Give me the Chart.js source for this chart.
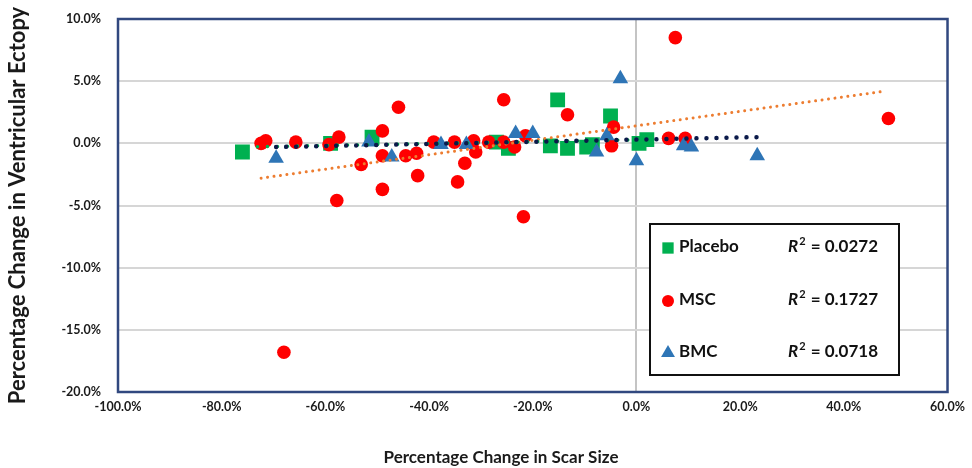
<!DOCTYPE html>
<html>
<head>
<meta charset="utf-8">
<script src="https://cdn.jsdelivr.net/npm/chart.js@4.4.1/dist/chart.umd.min.js"></script>
<style>
  html, body { margin: 0; padding: 0; background: #fff; }
  #wrap { width: 972px; height: 468px; }
</style>
</head>
<body>
<div id="wrap"><canvas id="chart" width="972" height="468"></canvas></div>
<script>
// change in scar size (%) vs change in ventricular ectopy (%)
const placeboX = [-76.0, -59.0, -51.0, -27.0, -24.7, -16.6, -15.2, -13.3, -9.6, -8.5, -5.0, 0.5, 2.0];
const placeboY = [-0.7, 0.0, 0.5, 0.1, -0.4, -0.2, 3.5, -0.4, -0.3, -0.1, 2.2, 0.0, 0.3];

const mscX = [-72.4, -71.5, -68.0, -65.7, -59.3, -57.8, -57.4, -53.1, -49.0, -49.0, -49.0, -45.9,
              -44.5, -42.4, -42.2, -39.1, -35.1, -34.5, -33.1, -31.4, -31.0, -28.5, -25.6, -25.6,
              -23.5, -21.8, -21.4, -13.3, -4.8, -4.4, 6.2, 7.5, 9.4, 48.6];
const mscY = [0.0, 0.2, -16.8, 0.1, -0.1, -4.6, 0.5, -1.7, 1.0, -1.0, -3.7, 2.9,
              -1.0, -0.8, -2.6, 0.1, 0.1, -3.1, -1.6, 0.2, -0.7, 0.1, 3.5, 0.1,
              -0.3, -5.9, 0.6, 2.3, -0.2, 1.3, 0.4, 8.5, 0.4, 2.0];

const bmcX = [-69.5, -51.6, -47.2, -37.7, -32.8, -23.3, -20.0, -7.7, -5.7, -3.1, 0.0, 9.1, 10.6, 23.3];
const bmcY = [-1.2, 0.1, -1.1, -0.1, -0.1, 0.8, 0.8, -0.7, 0.6, 5.2, -1.4, -0.2, -0.3, -1.0];

// linear trend lines (start and end points)
const placeboTrendX = [-76.0, 2.0];
const placeboTrendY = [-0.3, 0.3];
const mscTrendX = [-72.4, 48.0];
const mscTrendY = [-2.8, 4.2];
const bmcTrendX = [-69.5, 23.3];
const bmcTrendY = [-0.3, 0.5];

const groupNames = ["Placebo", "MSC", "BMC"];
const rSquared = ["0.0272", "0.1727", "0.0718"];

const xTicks = [-100, 60, 20];   // min, max, step
const yTicks = [-20, 10, 5];

const xTitle = "Percentage Change in Scar Size";
const yTitle = "Percentage Change in Ventricular Ectopy";

const GREEN = "#00b050";
const RED = "#ff0000";
const BLUE = "#2e75b6";
const NAVY = "#0b1a4a";
const ORANGE = "#ed7d31";
const FONT = "Lato";

const toPoints = (xs, ys) => xs.map((x, i) => ({ x: x, y: ys[i] }));

const trend = (xs, ys, color, width, gap, offset) => ({
    type: "line",
    data: toPoints(xs, ys),
    borderColor: color,
    borderWidth: width,
    borderDash: [0.01, gap],
    borderDashOffset: offset,
    borderCapStyle: "round",
    pointRadius: 0,
    fill: false,
    order: 0,
});

const pct = v => v.toFixed(1) + "%";

// dark frame round the plot area, x axis title under the ticks
const framePlugin = {
    id: "frame",
    afterDraw(chart) {
        const { ctx, chartArea: a } = chart;
        ctx.save();
        ctx.strokeStyle = "#31487f";
        ctx.lineWidth = 2.5;
        ctx.strokeRect(a.left, a.top, a.right - a.left, a.bottom - a.top);
        ctx.fillStyle = "#1a1a1a";
        ctx.font = `bold 17px ${FONT}`;
        ctx.textAlign = "center";
        ctx.textBaseline = "middle";
        ctx.fillText(xTitle, 501, 458);
        ctx.restore();
    }
};

// boxed legend with R² values
const legendBox = {
    id: "legendBox",
    afterDraw(chart) {
        const ctx = chart.ctx;
        const box = { x: 650, y: 224, w: 249, h: 151 };
        const rows = [247, 300, 352];
        const styles = ["rect", "circle", "triangle"];
        const colors = [GREEN, RED, BLUE];
        const radii = [8, 6, 8];
        ctx.save();
        ctx.fillStyle = "#fff";
        ctx.fillRect(box.x, box.y, box.w, box.h);
        ctx.strokeStyle = "#111";
        ctx.lineWidth = 2;
        ctx.strokeRect(box.x, box.y, box.w, box.h);
        rows.forEach((y, i) => {
            ctx.fillStyle = colors[i];
            ctx.strokeStyle = colors[i];
            Chart.helpers.drawPoint(ctx, { pointStyle: styles[i], radius: radii[i], borderWidth: 0 }, 668, y + 1);
            ctx.fillStyle = "#111";
            ctx.textBaseline = "middle";
            ctx.textAlign = "left";
            ctx.font = `bold 17px ${FONT}`;
            ctx.fillText(groupNames[i], 679, y);
            // R² = value, right aligned
            const right = 878;
            const val = " = " + rSquared[i];
            ctx.textAlign = "right";
            ctx.fillText(val, right, y);
            const wVal = ctx.measureText(val).width;
            ctx.font = `bold 11px ${FONT}`;
            ctx.fillText("2", right - wVal - 1, y - 6);
            const wSup = ctx.measureText("2").width;
            ctx.font = `italic bold 17px ${FONT}`;
            ctx.fillText("R", right - wVal - wSup - 2, y);
        });
        ctx.restore();
    }
};

new Chart(document.getElementById("chart"), {
    type: "scatter",
    data: {
        datasets: [
            trend(bmcTrendX, bmcTrendY, NAVY, 4.5, 10, 0),
            trend(placeboTrendX, placeboTrendY, GREEN, 3.5, 10, 5),
            trend(mscTrendX, mscTrendY, ORANGE, 3, 6.5, 0),
            {
                label: groupNames[2],
                data: toPoints(bmcX, bmcY),
                pointStyle: "triangle",
                pointRadius: 9,
                backgroundColor: BLUE,
                borderColor: BLUE,
                borderWidth: 0,
                order: 1,
            },
            {
                label: groupNames[1],
                data: toPoints(mscX, mscY),
                pointStyle: "circle",
                pointRadius: 6.8,
                backgroundColor: RED,
                borderColor: RED,
                borderWidth: 0,
                order: 2,
            },
            {
                label: groupNames[0],
                data: toPoints(placeboX, placeboY),
                pointStyle: "rect",
                pointRadius: 10.5,
                backgroundColor: GREEN,
                borderColor: GREEN,
                borderWidth: 0,
                order: 3,
            },
        ]
    },
    options: {
        responsive: false,
        animation: false,
        layout: { padding: { left: 0, right: 23, top: 19, bottom: 0 } },
        plugins: {
            legend: { display: false },
            tooltip: { enabled: false },
        },
        scales: {
            x: {
                type: "linear",
                min: xTicks[0],
                max: xTicks[1],
                afterFit: s => { s.height = 76; },
                ticks: {
                    stepSize: xTicks[2],
                    callback: pct,
                    padding: 7,
                    color: "#1a1a1a",
                    font: { family: FONT, weight: "bold", size: 12.5 },
                },
                grid: {
                    drawTicks: false,
                    lineWidth: 2,
                    color: c => c.tick && c.tick.value === 0 ? "#c4c4c4" : "rgba(0,0,0,0)",
                },
                border: { display: false },
                title: { display: false },
            },
            y: {
                type: "linear",
                min: yTicks[0],
                max: yTicks[1],
                // fixed axis width; keep the tick padding from pushing the plot down
                afterFit: s => {
                    s.width = 118;
                    s.paddingTop = 8;
                    s.paddingBottom = 8;
                },
                ticks: {
                    stepSize: yTicks[2],
                    callback: pct,
                    padding: 17,
                    color: "#1a1a1a",
                    font: { family: FONT, weight: "bold", size: 12.5 },
                },
                grid: {
                    drawTicks: false,
                    lineWidth: 2,
                    color: "#d6d6d6",
                },
                border: { display: false },
                title: {
                    display: true,
                    text: yTitle,
                    color: "#1a1a1a",
                    font: { family: FONT, weight: "bold", size: 22 },
                    padding: { top: 5, bottom: 0 },
                },
            },
        },
    },
    plugins: [framePlugin, legendBox],
});
</script>
</body>
</html>
